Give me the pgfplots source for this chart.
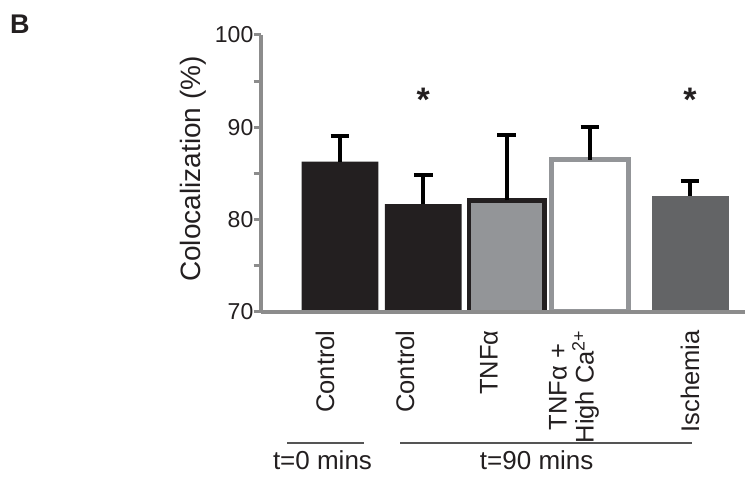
\documentclass[border=0pt]{standalone}
\usepackage{pgfplots}
\pgfplotsset{compat=1.18}
\usepackage{fontspec}
\setmainfont{Liberation Sans}
\definecolor{axgray}{RGB}{140,140,140}
\definecolor{barblack}{RGB}{35,31,32}
\definecolor{bargray}{RGB}{147,149,152}
\definecolor{bardark}{RGB}{99,100,102}
\definecolor{txt}{RGB}{35,31,32}
\definecolor{linegray}{RGB}{85,85,85}
\begin{document}
\begin{tikzpicture}[x=1pt,y=1pt]
\useasboundingbox (0,0) rectangle (745,477);
\node[anchor=base west, inner sep=0pt, text=txt, font=\fontsize{27}{30}\selectfont\bfseries] at (10,443.7) {B};
\begin{axis}[
  at={(261pt,165.3pt)}, anchor=south west,
  scale only axis, width=484pt, height=276.7pt,
  xmin=-0.948, xmax=4.86, ymin=70, ymax=100,
  clip mode=individual, axis on top,
  axis x line*=bottom, axis y line*=left,
  axis line style={axgray, line width=4pt},
  ytick={70,80,90,100}, minor ytick={75,85,95},
  tick align=outside,
  major tick length=7.5pt, minor tick length=7.5pt,
  tick style={axgray, line width=3pt},
  xtick={-0.18,0.78,1.788,2.808,4.2},
  xticklabels={Control,Control,TNFα,{TNFα +\\High Ca\textsuperscript{2+}},Ischemia},
  x tick style={draw=none},
  xticklabel shift=11pt,
  xticklabel style={rotate=90, anchor=east, inner sep=0pt, align=center, text=txt, font=\fontsize{25.5}{27}\selectfont},
  yticklabel style={inner sep=0pt, text=txt, font=\fontsize{23}{24}\selectfont},
  /pgf/number format/assume math mode=true,
]
\addplot[ybar, bar shift=0pt, bar width=76.7pt, fill=barblack, draw=none,
  error bars/.cd, y dir=plus, y explicit,
  error bar style={line width=4.2pt, black},
  error mark options={rotate=90, line width=4pt, mark size=9.4pt, black}]
  table[x=x, y=y, y error=e] {
x y e
0 86.27 2.73
1 81.65 3.21
};
\addplot[ybar, bar shift=0pt, bar width=75.7pt, fill=bargray, draw=barblack, line width=4.3pt,
  error bars/.cd, y dir=plus, y explicit,
  error bar style={line width=4.2pt, black},
  error mark options={rotate=90, line width=4pt, mark size=9.4pt, black}]
  table[x=x, y=y, y error=e] {
x y e
2 82.06 7.10
};
\addplot[ybar, bar shift=0pt, bar width=76.7pt, fill=white, draw=bargray, line width=5pt,
  error bars/.cd, y dir=plus, y explicit,
  error bar style={line width=4.2pt, black},
  error mark options={rotate=90, line width=4pt, mark size=9.4pt, black}]
  table[x=x, y=y, y error=e] {
x y e
3 86.50 3.50
};
\addplot[ybar, bar shift=0pt, bar width=77pt, fill=bardark, draw=none,
  error bars/.cd, y dir=plus, y explicit,
  error bar style={line width=4.2pt, black},
  error mark options={rotate=90, line width=4pt, mark size=9.4pt, black}]
  table[x=x, y=y, y error=e] {
x y e
4.2 82.58 1.60
};
\node[anchor=north, inner sep=0pt, text=txt, font=\fontsize{34}{34}\selectfont\bfseries] at (axis cs:1,94.26) {*};
\node[anchor=north, inner sep=0pt, text=txt, font=\fontsize{34}{34}\selectfont\bfseries] at (axis cs:4.2,94.26) {*};
\end{axis}
\node[rotate=90, anchor=base, inner sep=0pt, text=txt, font=\fontsize{28}{30}\selectfont] at (200,308) {Colocalization (\%)};
\draw[linegray, line width=2pt] (287.3,34.3) -- (364.3,34.3);
\draw[linegray, line width=2pt] (400,34.3) -- (692.3,34.3);
\node[anchor=base, inner sep=0pt, text=txt, font=\fontsize{26}{28}\selectfont] at (322.5,7) {t=0 mins};
\node[anchor=base, inner sep=0pt, text=txt, font=\fontsize{26}{28}\selectfont] at (536.7,7) {t=90 mins};
\end{tikzpicture}
\end{document}
